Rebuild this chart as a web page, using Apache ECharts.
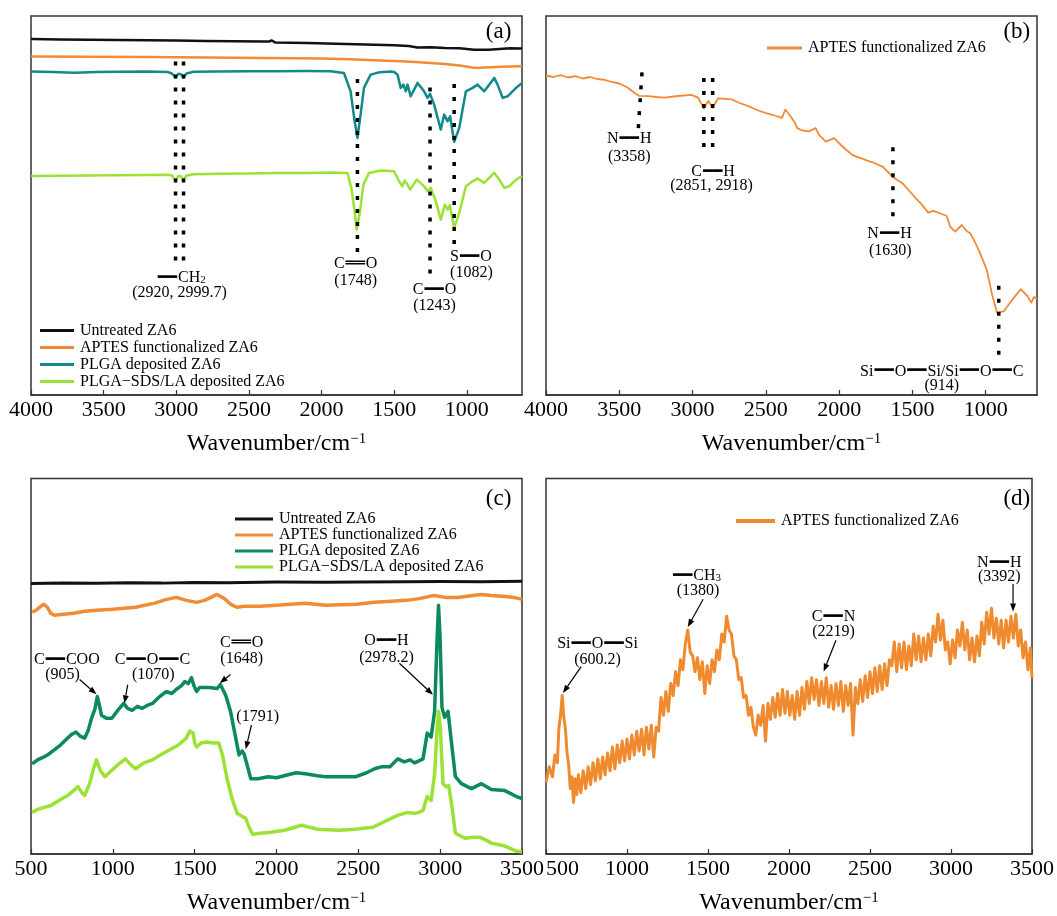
<!DOCTYPE html>
<html>
<head>
<meta charset="utf-8">
<script src="https://cdn.jsdelivr.net/npm/echarts@6/dist/echarts.min.js"></script>
<style>html,body{margin:0;background:#fff}#main{width:1057px;height:916px}</style>
</head>
<body>
<div id="main"></div>
<script>
// tick labels
var ticksA = [1000, 1500, 2000, 2500, 3000, 3500, 4000];
var ticksC = [500, 1000, 1500, 2000, 2500, 3000, 3500];

// (a) FTIR, [wavenumber, intensity a.u.]
var untreatedA = [[4000,356],[3800,355.5],[3600,355.3],[3400,355],[3200,354.8],[3000,354.5],[2800,354],[2600,353.8],[2400,353.5],[2360,353.4],[2345,354.6],[2320,352.6],[2100,352],[1900,351.3],[1700,350.6],[1500,349.8],[1400,349],[1340,347.6],[1250,347.8],[1150,347],[1050,346.8],[1000,346],[950,345.3],[850,345.2],[750,346.3],[700,346.8],[620,346.5]];
var aptesA = [[4000,338.6],[3600,338.3],[3200,338],[3000,337.8],[2600,337.3],[2200,336.8],[2000,336.5],[1800,335.8],[1600,334.6],[1415,333.5],[1300,332.5],[1250,332],[1150,331],[1050,329.5],[960,327.5],[926,327],[880,327.6],[800,328],[700,328.5],[620,328.7]];
var plgaA = [[4000,323.4],[3850,323],[3700,322.3],[3550,323],[3400,323.3],[3200,323.5],[3060,323],[3030,321.5],[3005,317.6],[2985,321.2],[2965,320.5],[2950,317.6],[2930,321.5],[2880,323.2],[2700,323.6],[2500,323.7],[2300,323.8],[2100,323.9],[1937,323.7],[1846,322.1],[1800,303.7],[1772,273.7],[1753,257.1],[1731,280.4],[1708,307.1],[1662,320.4],[1600,322.8],[1520,323.5],[1501,323.1],[1477,320.4],[1455,307.1],[1436,310.4],[1420,303.7],[1408,310.4],[1386,298.7],[1339,312.1],[1294,303.7],[1270,297.1],[1253,301.1],[1225,290.4],[1179,265.4],[1156,280.4],[1132,273.7],[1115,278.7],[1087,253.1],[1052,267.1],[1006,303.7],[960,307.1],[926,310.4],[880,303.7],[811,317.1],[788,310.4],[753,297.1],[719,298.7],[661,307.1],[620,312]];
var plgaSdsA = [[4000,218.9],[3800,219.2],[3600,219.5],[3400,219.8],[3200,220.1],[3060,220.3],[3030,219.5],[3005,214.5],[2985,219],[2965,218.5],[2950,214.5],[2930,219.5],[2880,220.8],[2700,221.3],[2500,221.6],[2300,221.9],[2100,222.1],[1937,222.4],[1822,222.1],[1795,207.1],[1772,183.7],[1758,165.4],[1735,183.7],[1712,210.4],[1673,222.1],[1593,224.4],[1501,223.7],[1466,213.7],[1443,208.7],[1427,214.4],[1408,210.4],[1390,205.4],[1344,215.4],[1294,208.7],[1270,203.7],[1248,207.1],[1213,193.7],[1179,175.4],[1151,190.4],[1132,185.4],[1117,189.7],[1087,167.1],[1052,182.1],[1006,208.7],[960,213.7],[926,216.4],[880,212.1],[811,222.1],[776,215.4],[742,207.1],[708,208.7],[661,215.4],[620,219]];

// (b) FTIR APTES
var aptesB = [[4000,319.5],[3950,318],[3900,319.8],[3850,317.5],[3800,318.8],[3750,316.5],[3700,318],[3650,316],[3600,315.2],[3550,313],[3500,311.5],[3444,307.5],[3400,302.5],[3363,299.1],[3300,298.8],[3250,298],[3192,297.4],[3100,299],[3008,300.1],[2963,297.4],[2923,286.5],[2893,294],[2863,287.2],[2825,296.7],[2733,295.7],[2680,292],[2619,288.9],[2560,285],[2504,282.1],[2440,279.5],[2390,277.1],[2367,285.5],[2332,278.8],[2300,272],[2286,266.9],[2250,264.5],[2206,263.6],[2160,266.9],[2137,260.2],[2091,253.4],[2034,256.8],[1988,250],[1950,245],[1908,239.9],[1816,234.8],[1760,232],[1701,228.1],[1633,217.9],[1564,211.2],[1520,204],[1472,195.9],[1438,190.9],[1392,182.4],[1357,184.1],[1300,181],[1266,179],[1243,168.4],[1208,163.3],[1163,170],[1130,164],[1105,161.6],[1070,152],[1037,141.3],[991,124.4],[957,100.7],[922,82.1],[876,83.8],[840,91],[807,97.4],[761,105.8],[716,99.1],[689,92.3],[670,98],[658,97.4],[650,96]];

// (c) Raman
var untreatedC = [[500,273],[700,273.6],[900,273.2],[1100,273.7],[1300,273.4],[1500,274],[1700,273.8],[2000,274.5],[2300,274.2],[2500,274.6],[2800,274.8],[3000,275],[3250,274.7],[3500,275.2]];
var aptesC = [[507,244],[530,246],[560,250],[579,252],[600,249],[620,243],[642,241],[700,242],[760,243],[828,245],[900,246],[1000,247],[1139,249],[1250,253],[1330,257],[1387,259],[1450,256],[1512,254],[1560,256],[1600,259],[1636,262],[1680,258],[1720,252],[1760,249],[1802,250],[1900,250],[2000,251],[2175,253],[2300,251],[2486,252],[2600,254],[2700,255],[2797,256],[2880,258],[2962,261],[3030,259],[3107,259],[3200,261],[3250,262],[3314,261],[3400,260],[3450,259],[3501,257]];
var plgaC = [[507,91],[540,95],[579,98],[610,101],[642,105],[680,110],[724,117],[750,121],[776,123],[800,119],[828,117],[850,125],[870,137],[890,146],[905,159],[918,150],[931,140],[960,137],[994,137],[1030,145],[1066,152],[1090,147],[1118,145],[1150,149],[1180,147],[1210,150],[1242,152],[1280,158],[1326,164],[1360,162],[1387,166],[1420,170],[1439,174],[1460,172],[1481,178],[1495,170],[1512,164],[1530,168],[1553,168],[1590,168],[1636,167],[1657,171],[1690,160],[1719,144],[1745,122],[1771,100],[1790,104],[1802,101],[1820,90],[1843,76],[1885,76],[1950,78],[2000,77],[2071,80],[2120,82],[2175,81],[2250,79],[2300,78],[2382,78],[2486,78],[2550,82],[2600,86],[2639,88],[2693,88],[2741,96],[2780,93],[2817,95],[2843,92],[2870,94],[2895,96],[2921,122],[2945,118],[2966,144],[2982,221],[2990,251],[2999,221],[3011,148],[3027,138],[3048,144],[3068,114],[3093,78],[3129,71],[3191,66],[3252,71],[3313,65],[3395,64],[3466,58],[3500,56]];
var plgaSdsC = [[507,42],[540,45],[580,47],[621,49],[680,55],[724,59],[760,64],[787,68],[810,62],[828,59],[860,72],[880,85],[900,95],[925,84],[952,78],[990,84],[1030,90],[1077,96],[1110,90],[1139,86],[1190,92],[1242,95],[1290,100],[1346,105],[1400,110],[1449,117],[1470,124],[1491,122],[1500,112],[1512,108],[1540,112],[1574,113],[1610,112],[1647,112],[1670,100],[1698,76],[1730,55],[1760,41],[1790,38],[1812,36],[1830,28],[1854,20],[1900,21],[1968,22],[2050,24],[2154,29],[2250,25],[2382,24],[2480,25],[2589,27],[2639,31],[2700,36],[2741,39],[2800,42],[2843,41],[2870,42],[2895,44],[2921,58],[2945,54],[2966,81],[2982,128],[2990,144],[3001,128],[3017,71],[3037,68],[3052,69],[3072,48],[3093,21],[3150,16],[3200,17],[3242,17],[3280,14],[3313,11],[3395,8],[3466,3],[3500,2]];

// (d) Raman APTES (noisy)
var aptesD = [[500,72],[520,88],[540,78],[555,100],[570,92],[580,128],[590,140],[600,160],[610,138],[620,126],[630,102],[640,90],[650,66],[660,78],[670,52],[680,76],[690,60],[700,80],[715,62],[730,84],[745,66],[760,88],[775,70],[790,92],[805,74],[820,96],[835,76],[850,98],[865,80],[880,102],[895,84],[910,108],[925,86],[940,110],[955,92],[970,114],[985,94],[1000,116],[1015,96],[1030,120],[1045,100],[1060,124],[1075,104],[1090,126],[1105,100],[1120,128],[1135,106],[1150,130],[1165,98],[1180,128],[1195,124],[1210,158],[1225,140],[1240,164],[1255,144],[1270,172],[1285,160],[1300,184],[1315,170],[1330,196],[1345,186],[1360,212],[1375,226],[1390,204],[1405,200],[1420,184],[1435,198],[1450,176],[1465,194],[1480,162],[1495,190],[1510,172],[1525,196],[1540,184],[1555,206],[1570,196],[1585,222],[1600,214],[1615,240],[1630,226],[1645,222],[1660,200],[1675,196],[1690,176],[1705,178],[1720,158],[1735,160],[1750,140],[1765,148],[1780,128],[1795,120],[1810,140],[1825,130],[1840,150],[1855,114],[1870,152],[1885,136],[1900,158],[1915,138],[1930,162],[1945,140],[1960,166],[1975,142],[1990,164],[2005,140],[2020,160],[2035,136],[2050,164],[2065,140],[2080,168],[2095,146],[2110,174],[2125,152],[2140,178],[2155,156],[2170,176],[2185,150],[2200,174],[2215,152],[2230,178],[2245,148],[2260,170],[2275,146],[2290,172],[2305,150],[2320,174],[2335,144],[2350,170],[2365,150],[2380,172],[2395,120],[2410,168],[2425,152],[2440,176],[2455,154],[2470,180],[2485,158],[2500,184],[2515,162],[2530,188],[2545,164],[2560,190],[2575,166],[2590,192],[2605,170],[2620,196],[2635,190],[2650,214],[2665,184],[2680,212],[2695,188],[2710,214],[2725,186],[2740,210],[2755,190],[2770,222],[2785,196],[2800,220],[2815,194],[2830,218],[2845,196],[2860,222],[2875,200],[2890,230],[2905,214],[2920,242],[2935,216],[2950,236],[2965,206],[2980,214],[2995,192],[3010,216],[3025,198],[3040,226],[3055,210],[3070,234],[3085,206],[3100,226],[3115,196],[3130,218],[3145,194],[3160,220],[3175,200],[3190,234],[3205,212],[3220,244],[3235,222],[3250,248],[3265,218],[3280,238],[3295,212],[3310,236],[3325,208],[3340,236],[3355,214],[3370,240],[3385,218],[3400,242],[3415,210],[3430,226],[3445,198],[3460,214],[3475,186],[3490,208],[3500,178]];

var FONT = 'Liberation Serif';
var C_BLACK = '#111111', C_ORANGE = '#f28a36', C_TEAL = '#12898b', C_LIME = '#9be236', C_GREEN = '#0b8a5c';
var N1 = 'Untreated ZA6', N2 = 'APTES functionalized ZA6', N3 = 'PLGA deposited ZA6', N4 = 'PLGA\u2212SDS/LA deposited ZA6';

var RICH = {
    b: {fontFamily: 'DejaVu Sans', fontSize: 16, color: '#000', padding: [0, 1, 0, 1]},
    d: {fontFamily: 'DejaVu Sans', fontSize: 16, color: '#000', padding: [0, 1, 0, 1]},
    sub: {fontFamily: FONT, fontSize: 11, color: '#000', verticalAlign: 'bottom'}
};

var chart = echarts.init(document.getElementById('main'), null, {renderer: 'canvas'});

function grid(left, top) {
    return {left: left, top: top, width: 491, height: 379, show: true, borderColor: '#333', borderWidth: 1.5, backgroundColor: 'transparent'};
}
function xAx(idx, min, max, inverse, ticks, alignMin) {
    return {
        type: 'value', gridIndex: idx, min: min, max: max, inverse: inverse,
        name: 'Wavenumber/cm{sup|\u22121}', nameLocation: 'middle', nameGap: 37,
        nameTextStyle: {color: '#000', fontSize: 24, fontFamily: FONT,
            rich: {sup: {fontSize: 15, fontFamily: FONT, color: '#000', verticalAlign: 'top'}}},
        axisLine: {show: true, onZero: false, lineStyle: {color: '#333', width: 1.5}},
        axisTick: {show: true, inside: true, length: 5, customValues: ticks, lineStyle: {color: '#333', width: 1.2}},
        axisLabel: {customValues: ticks, color: '#000', fontSize: 22, fontFamily: FONT, margin: 4,
            showMinLabel: true, showMaxLabel: true, alignMinLabel: alignMin,
            formatter: function (v) { return String(v); }},
        splitLine: {show: false}
    };
}
function yAx(idx) {
    return {type: 'value', gridIndex: idx, min: 0, max: 379, show: false, splitLine: {show: false}};
}
function line(name, data, idx, color, width) {
    return {name: name, type: 'line', data: data, xAxisIndex: idx, yAxisIndex: idx,
        symbol: 'none', showSymbol: false, silent: true, animation: false,
        lineStyle: {color: color, width: width, join: 'round'}, itemStyle: {color: color}, z: 3};
}
function legend(items, left, top, lh, w, h) {
    return {orient: 'vertical', left: left, top: top, padding: 0, itemGap: 0, icon: 'rect',
        itemWidth: w, itemHeight: h, selectedMode: false,
        textStyle: {color: '#000', fontSize: 16, fontFamily: FONT, lineHeight: lh, padding: [0, 0, 0, 1]},
        data: items.map(function (it) { return {name: it[0], itemStyle: {color: it[1]}}; })};
}

chart.setOption({
    animation: false,
    backgroundColor: '#fff',
    grid: [grid(31, 16), grid(546, 16), grid(31, 478.5), grid(546, 478.5)],
    xAxis: [xAx(0, 620, 4000, true, ticksA), xAx(1, 650, 4000, true, ticksA),
            xAx(2, 500, 3500, false, ticksC), xAx(3, 500, 3500, false, ticksC, 'left')],
    yAxis: [yAx(0), yAx(1), yAx(2), yAx(3)],
    legend: [
        legend([[N1, C_BLACK], [N2, C_ORANGE], [N3, C_TEAL], [N4, C_LIME]], 40, 322, 17, 34, 3),
        legend([[N2, C_ORANGE]], 767, 40, 16, 35, 3),
        legend([[N1, C_BLACK], [N2, C_ORANGE], [N3, C_GREEN], [N4, C_LIME]], 235, 511, 16, 38, 3),
        legend([[N2, '#f08a2e']], 736, 513, 16, 39, 4)
    ],
    series: [
        line(N1, untreatedA, 0, C_BLACK, 2.5),
        line(N2, aptesA, 0, C_ORANGE, 2.5),
        line(N3, plgaA, 0, C_TEAL, 2.5),
        line(N4, plgaSdsA, 0, C_LIME, 2.5),
        line(N2, aptesB, 1, C_ORANGE, 1.8),
        line(N1, untreatedC, 2, C_BLACK, 3),
        line(N2, aptesC, 2, C_ORANGE, 3.5),
        line(N3, plgaC, 2, C_GREEN, 3.5),
        line(N4, plgaSdsC, 2, C_LIME, 3.5),
        line(N2, aptesD, 3, '#f08a2e', 3)
    ]
});

// annotations: [panel, x1, y1, x2, y2]
var dotted = [
    [0, 3005, 333.5, 3005, 132.9], [0, 2950, 333.5, 2950, 132.9], [0, 1753, 316, 1753, 141.3],
    [0, 1253, 307.5, 1253, 117.6], [0, 1087, 310.9, 1087, 149.8],
    [1, 3345, 322.7, 3370, 266.9], [1, 2923, 317, 2923, 241.6], [1, 2863, 317, 2863, 241.6],
    [1, 1633, 247.7, 1633, 175.1], [1, 911, 109.2, 911, 36.5]
];
var arrows = [
    [2, 797, 176.1, 900, 161.3], [2, 1091, 171, 1071, 152.1], [2, 1719, 181.1, 1653, 172.4],
    [2, 2751, 192.5, 2956, 160.8], [2, 1847, 130.2, 1812, 105.8],
    [3, 717, 189.2, 605, 162.5], [3, 1470, 257.2, 1375, 229.2], [3, 2290, 215.8, 2214, 184.2],
    [3, 3383, 272.5, 3383, 244.8]
];
var DASH = '{b|\u2501\u2501}', DBL = '{d|\u2550\u2550}';
var notes = [
    [0, 2966, 117, DASH + 'CH{sub|2}'], [0, 2978, 102.4, '(2920, 2999.7)'],
    [0, 1765, 131.2, 'C' + DBL + 'O'], [0, 1765, 114.3, '(1748)'],
    [0, 1222, 104.8, 'C' + DASH + 'O'], [0, 1222, 88.9, '(1243)'],
    [0, 972, 137.9, 'S' + DASH + 'O'], [0, 968, 122.7, '(1082)'],
    [1, 3432, 256.1, 'N' + DASH + 'H'], [1, 3432, 238.2, '(3358)'],
    [1, 2860, 223, 'C' + DASH + 'H'], [1, 2870, 209.5, '(2851, 2918)'],
    [1, 1656, 161.6, 'N' + DASH + 'H'], [1, 1651, 144.7, '(1630)'],
    [1, 1300, 23.7, 'Si' + DASH + 'O' + DASH + 'Si/Si' + DASH + 'O' + DASH + 'C'], [1, 1300, 8.8, '(914)'],
    [2, 719, 195.7, 'C' + DASH + 'COO'], [2, 693, 181.1, '(905)'],
    [2, 1242, 195.7, 'C' + DASH + 'O' + DASH + 'C'], [2, 1247, 181.1, '(1070)'],
    [2, 1787, 213.3, 'C' + DBL + 'O'], [2, 1787, 197, '(1648)'],
    [2, 2672, 214.9, 'O' + DASH + 'H'], [2, 2672, 198, '(2978.2)'],
    [2, 1885, 138.6, '(1791)'],
    [3, 818, 212.5, 'Si' + DASH + 'O' + DASH + 'Si'], [3, 818, 195.8, '(600.2)'],
    [3, 1429, 280.9, DASH + 'CH{sub|3}'], [3, 1439, 265.7, '(1380)'],
    [3, 2275, 239.2, 'C' + DASH + 'N'], [3, 2275, 224.2, '(2219)'],
    [3, 3298, 294.2, 'N' + DASH + 'H'], [3, 3298, 280.2, '(3392)']
];
var panelLabels = [['(a)', 498.6, 32], ['(b)', 1016.8, 32], ['(c)', 498.6, 499], ['(d)', 1016.8, 499]];

function toPx(i, x, y) {
    return chart.convertToPixel({xAxisIndex: i, yAxisIndex: i}, [x, y]);
}
function textEl(x, y, txt, size) {
    return {type: 'text', x: x, y: y, silent: true, z: 20,
        style: {text: txt, fill: '#000', fontSize: size, fontFamily: FONT,
            align: 'center', verticalAlign: 'middle', textAlign: 'center', textVerticalAlign: 'middle', rich: RICH}};
}

var g = [];
dotted.forEach(function (d) {
    var p1 = toPx(d[0], d[1], d[2]), p2 = toPx(d[0], d[3], d[4]);
    g.push({type: 'line', silent: true, z: 10, shape: {x1: p1[0], y1: p1[1], x2: p2[0], y2: p2[1]},
        style: {stroke: '#000', lineWidth: 3.5, lineDash: [4, 9]}});
});
arrows.forEach(function (a) {
    var p1 = toPx(a[0], a[1], a[2]), p2 = toPx(a[0], a[3], a[4]);
    var dx = p2[0] - p1[0], dy = p2[1] - p1[1], len = Math.sqrt(dx * dx + dy * dy);
    var ux = dx / len, uy = dy / len, bx = p2[0] - ux * 8, by = p2[1] - uy * 8;
    g.push({type: 'line', silent: true, z: 10, shape: {x1: p1[0], y1: p1[1], x2: bx, y2: by},
        style: {stroke: '#000', lineWidth: 1.2}});
    g.push({type: 'polygon', silent: true, z: 10,
        shape: {points: [[p2[0], p2[1]], [bx - uy * 3, by + ux * 3], [bx + uy * 3, by - ux * 3]]},
        style: {fill: '#000'}});
});
notes.forEach(function (n) {
    var p = toPx(n[0], n[1], n[2]);
    g.push(textEl(p[0], p[1], n[3], 16));
});
panelLabels.forEach(function (l) {
    g.push(textEl(l[1], l[2], l[0], 23));
});
chart.setOption({graphic: g});
</script>
</body>
</html>
